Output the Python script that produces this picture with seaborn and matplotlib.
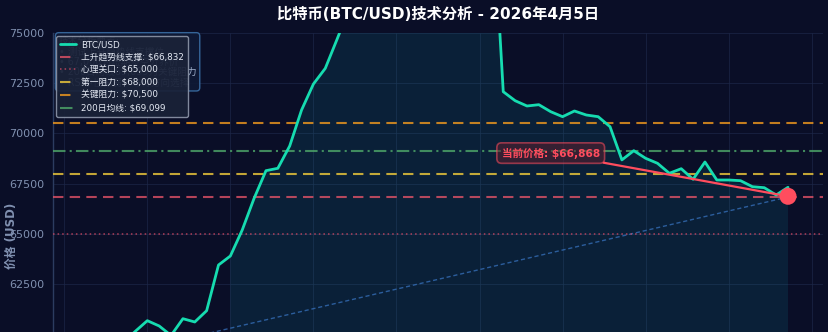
import numpy as np
import pandas as pd
import matplotlib
matplotlib.use("Agg")
import matplotlib.pyplot as plt
import seaborn as sns

# ---------------- data ----------------
end_date = "2026-04-05"
prices = [
    58800, 59300, 59100, 59600, 60150, 60673, 60409, 59935, 60772, 60608,
    61171, 63446, 63895, 65190, 66768, 68143, 68262, 69373, 71165, 72460,
    73240, 74700, 76200, 77500, 78800, 80100, 81000, 81800, 82500, 83200,
    82800, 83500, 83000, 82600, 82300, 72077, 71629, 71365, 71430, 71081,
    70832, 71116, 70916, 70832, 70334, 68680, 69139, 68760, 68511, 68013,
    68242, 67714, 68576, 67679, 67679, 67645, 67346, 67296, 66932, 67316,
]
current_price = 66868
trend_start_price = 58630
trend_end_price = 66832
levels = [
    ("上升趋势线支撑: $66,832", 66832, "#f0566a", (0, (5, 3)), 1.5, 0.75),
    ("心理关口: $65,000", 65000, "#d84a64", (0, (1, 2)), 1.1, 0.8),
    ("第一阻力: $68,000", 68000, "#f2cc3a", (0, (5, 3)), 1.5, 0.8),
    ("关键阻力: $70,500", 70500, "#f39a1e", (0, (5, 3)), 1.5, 0.8),
    ("200日均线: $69,099", 69099, "#4ea86a", (0, (6, 2, 1, 2)), 1.5, 0.8),
]
info_lines = [
    "技术分析要点:",
    "• 测试上升趋势线支撑位",
    "• 67,000为短期多空分界价",
    "• 200日均线69,099为关键阻力",
    "• RSI中性偏弱，等待方向选择",
]
title = "比特币(BTC/USD)技术分析 - 2026年4月5日"
y_label = "价格 (USD)"
fill_from = 12

dates = pd.date_range(end=end_date, periods=len(prices), freq="D")
df = pd.DataFrame({"date": dates, "price": prices})

# ---------------- style ----------------
BG = "#0a0e27"
FONTS = ["DejaVu Sans", "Noto Sans CJK SC"]
sns.set_theme(style="dark")
plt.rcParams["font.family"] = FONTS
plt.rcParams["axes.unicode_minus"] = False

fig = plt.figure(figsize=(8.29, 3.32), dpi=100, facecolor=BG)
ax = fig.add_axes([53 / 829, 0.9006 - 1.2096, 770 / 829, 1.2096])
ax.set_facecolor(BG)

# price line
sns.lineplot(data=df, x="date", y="price", ax=ax, color="#16dcb0",
             linewidth=2.0, label="BTC/USD", zorder=5)

ax.set_ylim(55000, 75000)
ax.margins(x=0.05)
ymin = ax.get_ylim()[0]
ax.fill_between(df["date"].iloc[fill_from:], df["price"].iloc[fill_from:], ymin,
                color="#10a0b0", alpha=0.13, linewidth=0, zorder=1)

# horizontal levels
for lab, val, col, ls, lw, al in levels:
    ax.axhline(val, color=col, linestyle=ls, linewidth=lw, alpha=al,
               label=lab, zorder=3)

# rising trend line
ax.plot([dates[0], dates[-1]], [trend_start_price, trend_end_price],
        color="#3a78c8", linestyle=(0, (3, 2)), linewidth=1.0, alpha=0.7,
        zorder=2)

# current price marker
ax.scatter([dates[-1]], [current_price], s=150, color="#ff4d5e", zorder=8,
           edgecolor="none")
ax.annotate(f"当前价格: ${current_price:,}", xy=(dates[-1], current_price),
            xytext=(dates[-21], 69020), ha="center", va="center",
            fontsize=7.6, fontweight="bold", color="#ff4d5e",
            family=FONTS,
            bbox=dict(boxstyle="round,pad=0.45", facecolor="#5a1f2e",
                      edgecolor="#ff4d5e", alpha=0.55, linewidth=1.2),
            arrowprops=dict(arrowstyle="-", color="#ff4d5e", lw=1.6,
                            shrinkA=0, shrinkB=0),
            zorder=9)

# info box (behind legend)
ax.text(0.0075, 0.9925, "\n".join(info_lines), transform=ax.transAxes,
        fontsize=6.9, color="#9fb0cc", va="top", ha="left", linespacing=1.05,
        family=FONTS,
        bbox=dict(boxstyle="round,pad=0.35", facecolor="#0f1a36",
                  edgecolor="#3a6ea5", alpha=0.9, linewidth=1.0),
        zorder=6)

# axes cosmetics
ticks = pd.date_range(start=dates[0] - pd.Timedelta(days=2), periods=10, freq="7D")
ax.set_xticks(ticks)
ax.set_yticks([62500, 65000, 67500, 70000, 72500, 75000])
ax.tick_params(axis="y", colors="#8090b0", labelsize=8, length=3)
ax.tick_params(axis="x", labelbottom=False, length=0)
ax.grid(True, color="#1c2748", linewidth=0.6, alpha=0.8)
ax.set_axisbelow(True)
for s in ["top", "right"]:
    ax.spines[s].set_visible(False)
for s in ["left", "bottom"]:
    ax.spines[s].set_color("#2c3c60")
    ax.spines[s].set_linewidth(1.0)
ax.set_xlabel("")
ax.set_ylabel(y_label, color="#8090b0", fontsize=8.5, fontweight="bold")
ax.yaxis.set_label_coords(-0.046, 0.495)

fig.suptitle(title, x=438 / 829, y=0.98, color="white", fontsize=11,
             fontweight="bold", va="top")

leg = ax.legend(loc="upper left", bbox_to_anchor=(0.0, 1.0), borderaxespad=0.35,
                fontsize=6.3, facecolor="#1a2238", edgecolor="#8a93a6",
                framealpha=0.93, labelspacing=0.42, handlelength=1.8,
                handletextpad=0.6, borderpad=0.45)
leg.set_zorder(10)
for t in leg.get_texts():
    t.set_color("#e6ebf5")

fig.savefig("out.png", dpi=100, facecolor=BG)
